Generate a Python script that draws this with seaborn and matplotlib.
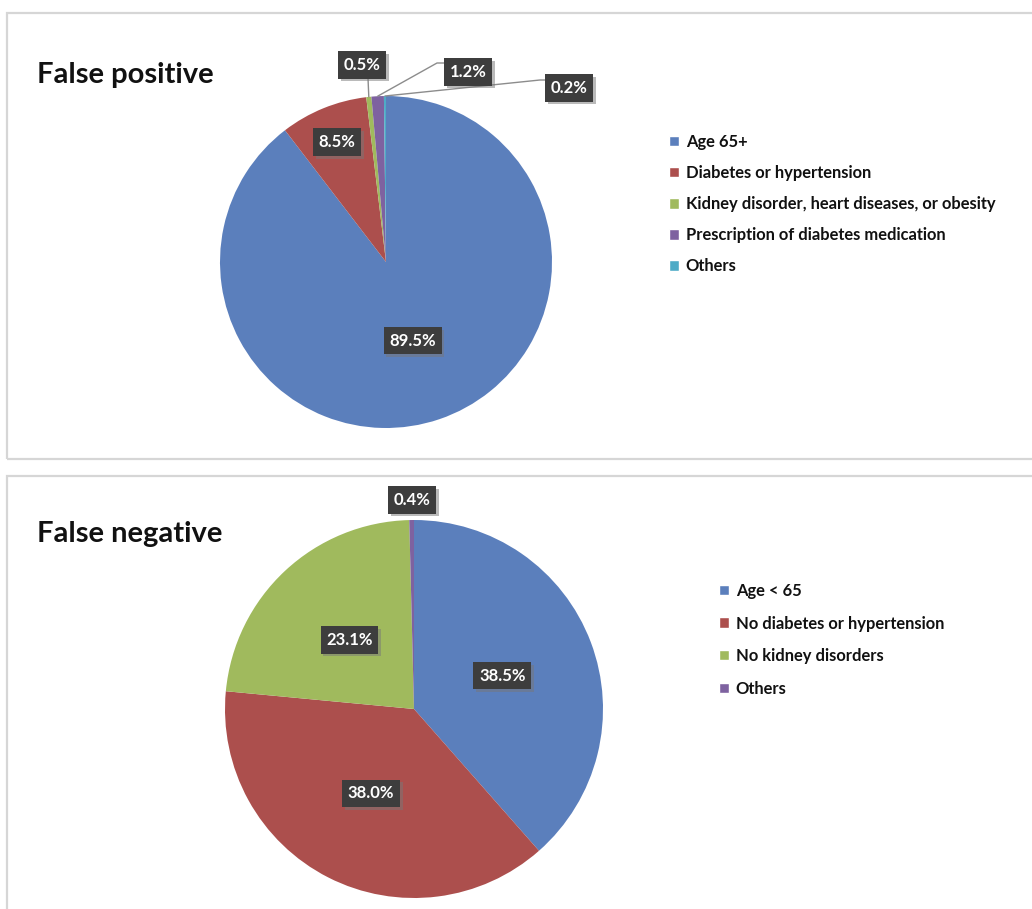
import matplotlib
matplotlib.use("Agg")
import matplotlib.pyplot as plt
import matplotlib.patheffects as pe
from matplotlib.patches import Rectangle, Patch
import numpy as np
import seaborn as sns

# data
fp_labels = ["Age 65+", "Diabetes or hypertension",
             "Kidney disorder, heart diseases, or obesity",
             "Prescription of diabetes medication", "Others"]
fp_values = [89.5, 8.5, 0.5, 1.2, 0.2]

fn_labels = ["Age < 65", "No diabetes or hypertension",
             "No kidney disorders", "Others"]
fn_values = [38.5, 38.0, 23.1, 0.4]

sns.set_theme(style="white")
plt.rcParams['font.family'] = ['Lato', 'DejaVu Sans']

colors = sns.color_palette(["#5B7FBC", "#AC4F4D", "#A0BA5D", "#7E62A0", "#4EABC6"])

W, H = 1032, 909
fig = plt.figure(figsize=(W / 100, H / 100), dpi=100)
ax = fig.add_axes([0, 0, 1, 1])


def Y(y):
    # reference pixel row -> data y
    return H - y


def mid_point(values, i, cx, cy, r, frac):
    tot = sum(values)
    cum = sum(values[:i]) + values[i] / 2
    ang = np.deg2rad(cum / tot * 360)
    return cx + frac * r * np.sin(ang), cy + frac * r * np.cos(ang)


def tag(x, y, text):
    t = ax.text(x, y, text, ha="center", va="center", color="white",
                fontsize=12, fontweight="bold",
                bbox=dict(boxstyle="square,pad=0.34", fc="#3d3d3d", ec="none"),
                zorder=5)
    t.get_bbox_patch().set_path_effects(
        [pe.withSimplePatchShadow(offset=(2, -2), shadow_rgbFace="#777777", alpha=0.5)])
    return t


# panel frames
for top, bottom in [(13, 459), (476, 930)]:
    ax.add_patch(Rectangle((7, Y(bottom)), 1100, bottom - top, fill=False,
                           ec="#d6d6d6", lw=1.6, zorder=0))

# ---- False positive ----
cx1, cy1, r1 = 386, Y(262), 166
wedges1, _ = ax.pie(fp_values, colors=colors[:5], startangle=90, counterclock=False,
                    center=(cx1, cy1), radius=r1, wedgeprops=dict(lw=0))
ax.text(37, Y(83), "False positive", fontsize=21, fontweight="bold",
        color="#111111", va="baseline", ha="left")

inner_fp = {0: 0.5, 1: 0.78}
for i, frac in inner_fp.items():
    x, y = mid_point(fp_values, i, cx1, cy1, r1, frac)
    tag(x, y, f"{fp_values[i]:.1f}%")

# outer labels: (box centre, leader path end points)
outer_fp = {
    2: ((362, 65), [(368, 78)]),
    3: ((468, 72), [(437, 63), (446, 63)]),
    4: ((569, 88), [(540, 80), (547, 80)]),
}
for i, ((bx, by), path) in outer_fp.items():
    ax0, ay0 = mid_point(fp_values, i, cx1, cy1, r1, 1.0)
    xs = [ax0] + [p[0] for p in path]
    ys = [ay0] + [Y(p[1]) for p in path]
    ax.plot(xs, ys, color="#8c8c8c", lw=1, zorder=4)
    tag(bx, Y(by), f"{fp_values[i]:.1f}%")

fig.legend([Patch(fc=c) for c in colors[:5]], fp_labels, loc="upper left",
           bbox_to_anchor=(669 / W, 1 - 134 / H), frameon=False,
           handlelength=0.6, handleheight=0.6, handletextpad=0.42,
           labelspacing=0.91, borderpad=0, borderaxespad=0,
           prop=dict(size=11.9, weight="bold"), labelcolor="#111111")

# ---- False negative ----
cx2, cy2, r2 = 414, Y(709), 189
wedges2, _ = ax.pie(fn_values, colors=colors[:4], startangle=90, counterclock=False,
                    center=(cx2, cy2), radius=r2, wedgeprops=dict(lw=0))
ax.text(37, Y(542), "False negative", fontsize=21, fontweight="bold",
        color="#111111", va="baseline", ha="left")

for i in range(3):
    x, y = mid_point(fn_values, i, cx2, cy2, r2, 0.5)
    tag(x, y, f"{fn_values[i]:.1f}%")
tag(412, Y(500), f"{fn_values[3]:.1f}%")

fig.legend([Patch(fc=c) for c in colors[:4]], fn_labels, loc="upper left",
           bbox_to_anchor=(719 / W, 1 - 583 / H), frameon=False,
           handlelength=0.6, handleheight=0.6, handletextpad=0.42,
           labelspacing=1.0, borderpad=0, borderaxespad=0,
           prop=dict(size=11.9, weight="bold"), labelcolor="#111111")

ax.set_xlim(0, W)
ax.set_ylim(0, H)
ax.set_aspect("auto")
ax.axis("off")

fig.savefig("out.png", dpi=100)
